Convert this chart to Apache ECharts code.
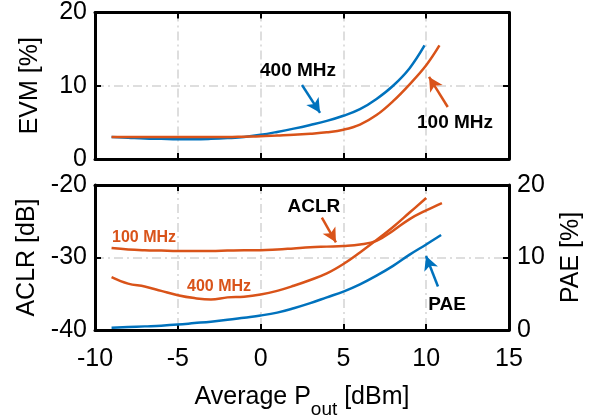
<!DOCTYPE html>
<html><head><meta charset="utf-8">
<script src="https://cdn.jsdelivr.net/npm/echarts@6/dist/echarts.min.js"></script>
<style>html,body{margin:0;padding:0;background:#fff}#c{width:599px;height:420px}</style>
</head><body><div id="c"></div>
<script>
// ---- data ----
const evm400X = [-9, -8, -7, -6, -5, -4, -3, -2, -1, 0, 1, 2, 3, 4, 5, 6, 7, 8, 9, 9.9];
const evm400Y = [3.0, 2.9, 2.8, 2.75, 2.7, 2.7, 2.75, 2.85, 3.0, 3.3, 3.7, 4.15, 4.65, 5.2, 5.9, 6.8, 8.2, 10.0, 12.4, 15.5];
const evm100X = [-9, -8, -7, -6, -5, -4, -3, -2, -1, 0, 1, 2, 3, 4, 5, 6, 7, 8, 9, 10, 10.8];
const evm100Y = [3.0, 3.0, 3.0, 3.0, 3.0, 3.0, 3.0, 3.0, 3.05, 3.1, 3.2, 3.3, 3.45, 3.65, 4.0, 4.7, 6.0, 7.9, 10.2, 12.8, 15.5];

const aclr100X = [-9, -8, -7, -6, -5, -4, -3, -2, -1, 0, 1, 2, 3, 4, 5, 6, 7, 8, 9, 10, 10.95];
const aclr100Y = [-28.7, -28.9, -29.0, -29.05, -29.1, -29.1, -29.1, -29.05, -29.0, -29.0, -28.9, -28.75, -28.6, -28.5, -28.4, -28.2, -27.7, -26.3, -24.7, -23.5, -22.5];
const aclr400X = [-9, -8, -7, -6, -5, -4, -3, -2, -1, 0, 1, 2, 3, 4, 5, 6, 7, 8, 9, 10];
const aclr400Y = [-32.7, -33.6, -34.0, -34.6, -35.2, -35.6, -35.8, -35.5, -35.4, -35.1, -34.6, -33.9, -33.1, -32.2, -30.9, -29.3, -27.6, -25.8, -23.8, -21.8];
const paeX = [-9, -8, -7, -6, -5, -4, -3, -2, -1, 0, 1, 2, 3, 4, 5, 6, 7, 8, 9, 10, 10.9];
const paeY = [0.3, 0.4, 0.5, 0.6, 0.75, 0.95, 1.15, 1.4, 1.7, 2.0, 2.4, 3.0, 3.7, 4.5, 5.3, 6.3, 7.5, 8.85, 10.4, 11.8, 13.1];

const xTicks = [-10, -5, 0, 5, 10, 15];
const evmTicks = [0, 10, 20];
const aclrTicks = [-40, -30, -20];
const paeTicks = [0, 10, 20];

// annotations (data coordinates)
const ann = {
  evm400Text: [2.26, 12.1], evm400Arrow: [[2.5, 10.1], [3.59, 6.3]],
  evm100Text: [11.74, 5.0], evm100Arrow: [[11.3, 7.1], [10.17, 11.2]],
  aclrText: [3.22, -23.06], aclrArrow: [[3.7, -24.5], [4.55, -27.9]],
  paeText: [11.26, 3.5], paeArrow: [[10.71, 6.0], [9.99, 10.2]],
  aclr100Text: [-7.04, -27.28], aclr400Text: [-2.51, -33.95]
};

const BLUE = '#0072BD', ORANGE = '#D95319';
const FONT = 'Liberation Sans, Arial, sans-serif';
const zip = (xs, ys) => xs.map((x, i) => [x, ys[i]]);

const split = {show: true, lineStyle: {color: '#d4d4d4', width: 1.5, type: [9, 4, 2, 4]}};
const tick = {show: true, inside: true, length: 6, lineStyle: {color: '#000', width: 2}};
const axLine = {show: true, onZero: false, lineStyle: {color: '#000', width: 3}};
const lbl = {fontFamily: FONT, fontSize: 25, color: '#000'};

function xAx(grid, pos, showLabel, showSplit, extra) {
  return Object.assign({
    type: 'value', gridIndex: grid, position: pos, min: xTicks[0], max: xTicks[xTicks.length - 1],
    interval: 5, axisLine: axLine, axisTick: tick,
    axisLabel: Object.assign({show: showLabel, margin: 17}, lbl),
    splitLine: Object.assign({}, split, {show: showSplit})
  }, extra || {});
}
function yAx(grid, pos, ticks, showLabel, showSplit, extra) {
  return Object.assign({
    type: 'value', gridIndex: grid, position: pos, min: ticks[0], max: ticks[ticks.length - 1],
    interval: ticks[1] - ticks[0], axisLine: axLine, axisTick: tick,
    axisLabel: Object.assign({show: showLabel, margin: 8}, lbl),
    splitLine: Object.assign({}, split, {show: showSplit})
  }, extra || {});
}
const nameStyle = {fontFamily: FONT, fontSize: 25, color: '#000'};

function arrow(pts, color) {
  return {silent: true, symbol: ['none', 'arrow'], symbolSize: [11, 14], animation: false,
    label: {show: false}, lineStyle: {color: color, width: 2.5, type: 'solid'},
    data: [[{coord: pts[0]}, {coord: pts[1]}]]};
}
function texts(items) {
  return {silent: true, symbol: 'circle', symbolSize: 0, animation: false,
    data: items.map(it => ({coord: it.c, value: it.t,
      label: {show: true, position: 'inside', formatter: it.t, fontFamily: FONT, fontWeight: 'bold',
        fontSize: it.s, color: it.col}}))};
}
function line(name, xi, yi, data, color) {
  return {type: 'line', name: name, xAxisIndex: xi, yAxisIndex: yi, data: data,
    smooth: 0.4, showSymbol: false,
    lineStyle: {color: color, width: 2.5}, itemStyle: {color: color}};
}

const chart = echarts.init(document.getElementById('c'), null, {renderer: 'canvas'});
chart.setOption({
  animation: false,
  backgroundColor: '#fff',
  grid: [
    {left: 95, right: 90, top: 12, height: 147},
    {left: 95, right: 90, top: 185, height: 147}
  ],
  xAxis: [
    xAx(0, 'bottom', false, true),
    xAx(0, 'top', false, false),
    xAx(1, 'bottom', true, true, {
      name: '{a|Average P}{s|out}{a| [dBm]}', nameLocation: 'middle', nameGap: 55,
      nameTextStyle: {rich: {
        a: {fontFamily: FONT, fontSize: 25, color: '#000', lineHeight: 30, verticalAlign: 'top'},
        s: {fontFamily: FONT, fontSize: 19, color: '#000', lineHeight: 24, padding: [15, 0, 0, 0], verticalAlign: 'top'}
      }}
    }),
    xAx(1, 'top', false, false)
  ],
  yAxis: [
    yAx(0, 'left', evmTicks, true, true, {name: 'EVM [%]', nameLocation: 'middle', nameGap: 52, nameTextStyle: nameStyle}),
    yAx(0, 'right', evmTicks, false, false),
    yAx(1, 'left', aclrTicks, true, true, {name: 'ACLR [dB]', nameLocation: 'middle', nameGap: 52, nameTextStyle: nameStyle}),
    yAx(1, 'right', paeTicks, true, false, {name: 'PAE [%]', nameLocation: 'middle', nameGap: 50, nameRotate: 90, nameTextStyle: nameStyle})
  ],
  series: [
    Object.assign(line('EVM 400 MHz', 0, 0, zip(evm400X, evm400Y), BLUE), {
      markLine: arrow(ann.evm400Arrow, BLUE),
      markPoint: texts([{c: ann.evm400Text, t: '400 MHz', s: 19, col: '#000'}])}),
    Object.assign(line('EVM 100 MHz', 0, 0, zip(evm100X, evm100Y), ORANGE), {
      markLine: arrow(ann.evm100Arrow, ORANGE),
      markPoint: texts([{c: ann.evm100Text, t: '100 MHz', s: 19, col: '#000'}])}),
    Object.assign(line('ACLR 100 MHz', 2, 2, zip(aclr100X, aclr100Y), ORANGE), {
      markLine: arrow(ann.aclrArrow, ORANGE),
      markPoint: texts([{c: ann.aclrText, t: 'ACLR', s: 19, col: '#000'},
                        {c: ann.aclr100Text, t: '100 MHz', s: 16, col: ORANGE}])}),
    Object.assign(line('ACLR 400 MHz', 2, 2, zip(aclr400X, aclr400Y), ORANGE), {
      markPoint: texts([{c: ann.aclr400Text, t: '400 MHz', s: 16, col: ORANGE}])}),
    Object.assign(line('PAE', 2, 3, zip(paeX, paeY), BLUE), {
      markLine: arrow(ann.paeArrow, BLUE),
      markPoint: texts([{c: ann.paeText, t: 'PAE', s: 19, col: '#000'}])})
  ]
});
</script></body></html>
